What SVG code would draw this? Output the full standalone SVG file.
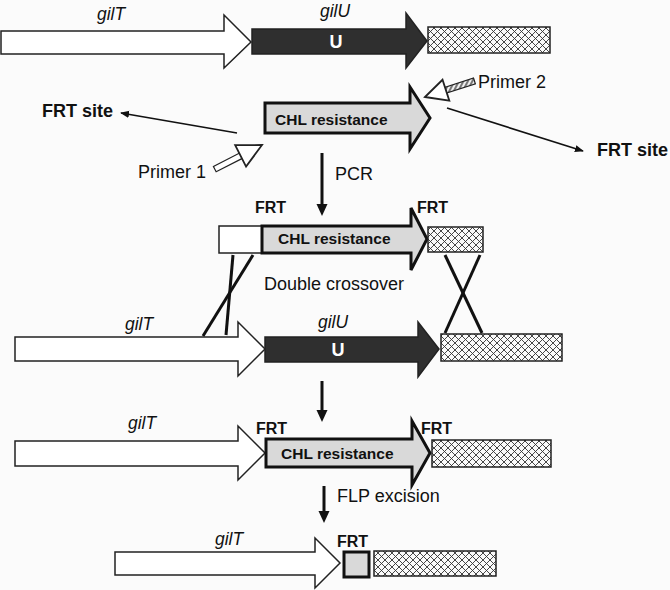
<svg xmlns="http://www.w3.org/2000/svg" width="670" height="590" viewBox="0 0 670 590">
<defs>
<pattern id="hatch" patternUnits="userSpaceOnUse" width="7" height="7">
<rect width="7" height="7" fill="#fafafa"/>
<path d="M0,0 L7,7 M7,0 L0,7 M-1,6 L1,8 M6,-1 L8,1 M-1,1 L1,-1 M6,8 L8,6" stroke="#333" stroke-width="0.9"/>
</pattern>
<pattern id="stripe" patternUnits="userSpaceOnUse" width="4" height="4" patternTransform="rotate(45)">
<rect width="4" height="4" fill="#eee"/>
<rect width="2" height="4" fill="#777"/>
</pattern>
<marker id="thin" viewBox="0 0 10 10" refX="9" refY="5" markerWidth="9" markerHeight="9" markerUnits="userSpaceOnUse" orient="auto">
<path d="M0,1 L10,5 L0,9 Z" fill="#111"/>
</marker>
</defs>
<style>
.gil{fill:#fff;stroke:#222;stroke-width:1.5}
.dark{fill:#2f2f2f;stroke:#222;stroke-width:1.5}
.chl{fill:#d9d9d9;stroke:#111;stroke-width:3}
.hatch{fill:url(#hatch);stroke:#222;stroke-width:1.5}
.wbox{fill:#fff;stroke:#222;stroke-width:1.5}
.it{font-family:"Liberation Sans",Arial,sans-serif;font-style:italic;font-size:17.5px;fill:#111}
.bd{font-family:"Liberation Sans",Arial,sans-serif;font-weight:bold;fill:#111}
.nm{font-family:"Liberation Sans",Arial,sans-serif;font-size:18px;fill:#111}
.conn{stroke:#111;stroke-width:3;fill:none}
.thinl{stroke:#111;stroke-width:1.6;fill:none}
.phead{fill:#fff;stroke:#222;stroke-width:1.8}
.pshaft{stroke:#222;stroke-width:1.2}
</style>
<rect width="670" height="590" fill="#fbfbfb"/>

<!-- Row 1 -->
<g id="row1-gilT">
<polygon class="gil" points="1,31 224,31 224,15 251,42 224,68 224,54 1,54"/>
<text class="it" x="97" y="20">gilT</text>
</g>
<g id="row1-gilU">
<polygon class="dark" points="252,29 406,29 406,13 427,41 406,68 406,54 252,54"/>
<text class="it" x="320" y="17">gilU</text>
<text class="bd" x="336" y="48" font-size="18" text-anchor="middle" style="fill:#fff">U</text>
</g>
<g id="row1-hatch"><rect class="hatch" x="428" y="27" width="122" height="26"/></g>

<!-- Row 2 -->
<g id="row2-chl">
<polygon class="chl" points="265,103 410,103 410,87 430,118 410,149 410,133 265,133"/>
<text class="bd" x="275" y="125" font-size="15.5">CHL resistance</text>
</g>
<g id="primer1">
<g transform="translate(262,145) rotate(-27)">
<rect class="pshaft" x="-53" y="-3" width="30" height="6" fill="#fff"/>
<path class="phead" d="M0,0 L-24,-12 L-24,12 Z"/>
</g>
<text class="nm" x="138" y="178">Primer 1</text>
</g>
<g id="primer2">
<g transform="translate(425,97) rotate(162)">
<rect class="pshaft" x="-52" y="-3" width="31" height="6" fill="url(#stripe)"/>
<path class="phead" d="M0,0 L-22,-11 L-22,11 Z"/>
</g>
<text class="nm" x="478" y="88">Primer 2</text>
</g>
<g id="frt-site-left"><text class="bd" x="42" y="117" font-size="18">FRT site</text></g>
<g id="frt-site-right"><text class="bd" x="597" y="156" font-size="18">FRT site</text></g>

<!-- Row 3 -->
<g id="row3-box"><rect class="wbox" x="219" y="226" width="43" height="27"/></g>
<g id="row3-chl">
<polygon class="chl" points="262,226 411,226 411,208 427,239 411,270 411,253 262,253"/>
<text class="bd" x="278" y="244" font-size="15.5">CHL resistance</text>
<text class="bd" x="255" y="213" font-size="16">FRT</text>
<text class="bd" x="417" y="213" font-size="16">FRT</text>
</g>
<g id="row3-hatch"><rect class="hatch" x="428" y="227" width="55" height="25"/></g>
<g id="crossover-label"><text class="nm" x="264" y="290">Double crossover</text></g>

<!-- Row 4 -->
<g id="row4-gilT">
<polygon class="gil" points="15,337 238,337 238,322 265,349 238,376 238,361 15,361"/>
<text class="it" x="125" y="330">gilT</text>
</g>
<g id="row4-gilU">
<polygon class="dark" points="265,337 418,337 418,322 439,349 418,377 418,362 265,362"/>
<text class="it" x="318" y="328">gilU</text>
<text class="bd" x="338" y="356" font-size="18" text-anchor="middle" style="fill:#fff">U</text>
</g>
<g id="row4-hatch"><rect class="hatch" x="441" y="334" width="121" height="27"/></g>

<!-- Row 5 -->
<g id="row5-gilT">
<polygon class="gil" points="15,441 238,441 238,426 265,453 238,480 238,466 15,466"/>
<text class="it" x="128" y="429">gilT</text>
</g>
<g id="row5-chl">
<polygon class="chl" points="266,439 412,439 412,421 430,453 412,485 412,467 266,467"/>
<text class="bd" x="281" y="459" font-size="15.5">CHL resistance</text>
<text class="bd" x="256" y="434" font-size="16">FRT</text>
<text class="bd" x="421" y="434" font-size="16">FRT</text>
</g>
<g id="row5-hatch"><rect class="hatch" x="432" y="440" width="119" height="27"/></g>

<!-- Row 6 -->
<g id="row6-gilT">
<polygon class="gil" points="115,552 315,552 315,538 340,563 315,588 315,575 115,575"/>
<text class="it" x="215" y="545">gilT</text>
</g>
<g id="row6-frt">
<rect x="344" y="552" width="25" height="25" fill="#d9d9d9" stroke="#111" stroke-width="3"/>
<text class="bd" x="337" y="547" font-size="16">FRT</text>
</g>
<g id="row6-hatch"><rect class="hatch" x="374" y="551" width="122" height="25"/></g>

<!-- Connectors -->
<g id="connectors">
<line class="thinl" x1="237" y1="133" x2="121" y2="113" marker-end="url(#thin)"/>
<line class="thinl" x1="447" y1="108" x2="583" y2="151" marker-end="url(#thin)"/>
<line class="conn" x1="322" y1="153" x2="322" y2="205"/>
<polygon points="316.5,204 327.5,204 322,216" fill="#111"/>
<text class="nm" x="335" y="180">PCR</text>
<line class="conn" x1="253" y1="255" x2="203" y2="336"/>
<line class="conn" x1="233" y1="255" x2="226" y2="335"/>
<line class="conn" x1="445" y1="255" x2="482" y2="333"/>
<line class="conn" x1="480" y1="255" x2="445" y2="333"/>
<line class="conn" x1="322" y1="381" x2="322" y2="411"/>
<polygon points="316.5,410 327.5,410 322,422" fill="#111"/>
<line class="conn" x1="324" y1="486" x2="324" y2="512"/>
<polygon points="318.5,511 329.5,511 324,523" fill="#111"/>
<text class="nm" x="337" y="502">FLP excision</text>
</g>
</svg>
